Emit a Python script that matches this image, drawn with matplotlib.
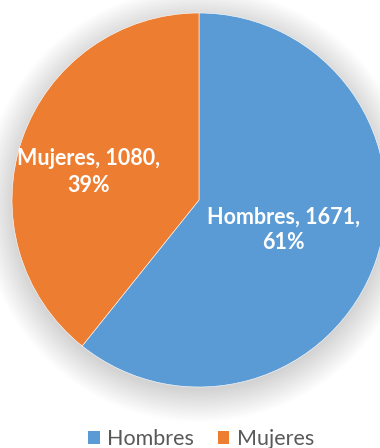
import matplotlib
matplotlib.use('Agg')
import matplotlib.pyplot as plt
import numpy as np
from matplotlib.patches import Patch, Circle

categories = ['Hombres', 'Mujeres']
counts = [1671, 1080]
colors = ['#5B9BD5', '#ED7D31']

W, H = 380, 448
cx, cy, r = 199, 200, 187   # pie centre and radius in pixels

fig = plt.figure(figsize=(W / 100, H / 100), dpi=100)
ax = fig.add_axes([0, 0, 1, 1])

# soft drop shadow: stacked translucent discs, slightly offset downwards
for grow in np.arange(30, -2, -1.5):
    ax.add_patch(Circle((0, -5 / r), 1 + grow / r, facecolor='black',
                        edgecolor='none', alpha=0.007, zorder=0))

wedges, _ = ax.pie(counts, colors=colors, startangle=90, counterclock=False,
                   radius=1.0, wedgeprops=dict(edgecolor='white', linewidth=0.4))
for w in wedges:
    w.set_zorder(2)
ax.set_xlim(-cx / r, (W - cx) / r)
ax.set_ylim(-(H - cy) / r, cy / r)
ax.set_aspect('auto')
ax.axis('off')

total = sum(counts)
label_pos = [(0.45, -0.16), (-0.59, 0.15)]
for name, val, (lx, ly) in zip(categories, counts, label_pos):
    ax.text(lx, ly, f'{name}, {val},\n{round(val / total * 100)}%',
            ha='center', va='center', color='white', fontsize=15.5,
            fontweight='bold', family='Lato', linespacing=1.3, zorder=3)

handles = [Patch(facecolor=c, edgecolor='none') for c in colors]
leg = fig.legend(handles, categories, loc='center', bbox_to_anchor=(201 / W, 1 - 439 / H),
                 ncol=2, frameon=False, prop={'family': 'Lato', 'size': 15.5},
                 handlelength=0.55, handleheight=0.55, handletextpad=0.35,
                 columnspacing=1.1, borderpad=0)
for t in leg.get_texts():
    t.set_color('#595959')

fig.savefig('out.png', dpi=100)
